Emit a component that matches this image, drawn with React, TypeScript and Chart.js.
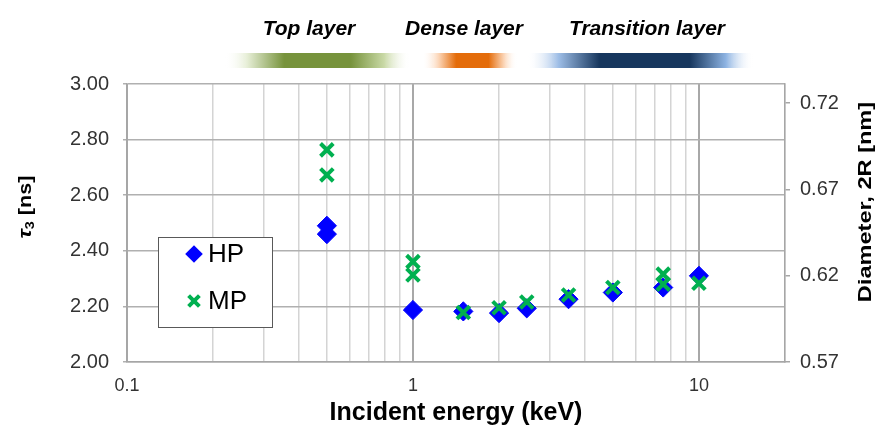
import React, { useEffect, useRef } from "react";
import { Chart, registerables } from "chart.js";

Chart.register(...registerables);

// ---------- data ----------
const hpEnergy = [0.5, 0.5, 1, 1.5, 2, 2.5, 3.5, 5, 7.5, 10];
const hpTau = [2.49, 2.46, 2.187, 2.182, 2.176, 2.193, 2.226, 2.25, 2.268, 2.31];
const mpEnergy = [0.5, 0.5, 1, 1, 1.5, 2, 2.5, 3.5, 5, 7.5, 7.5, 10];
const mpTau = [2.763, 2.673, 2.361, 2.313, 2.178, 2.195, 2.216, 2.241, 2.268, 2.316, 2.28, 2.283];

const xTickLabels = [0.1, 1, 10];
const xDecades = [0.1, 1, 10];
const xMax = 20;
const yTicks = [2.0, 2.2, 2.4, 2.6, 2.8, 3.0];
const y2Ticks = [0.57, 0.62, 0.67, 0.72];
const y2Max = 0.731;
const layerLabels = ["Top layer", "Dense layer", "Transition layer"];
const seriesLabels = ["HP", "MP"];

// ---------- layout / style ----------
const FONT = '"Liberation Sans", Arial, Helvetica, sans-serif';
const BLUE = "#0000FF";
const GREEN = "#00B050";
const TICK_COLOR = "#333333";

const LAYER_TEXT_X = [309, 464, 647];
const LAYER_TEXT_Y = 35;
const LAYER_BARS = [
  { x0: 225, x1: 410, stops: [[0, "rgba(255,255,255,0)"], [0.12, "#e6eed6"], [0.32, "#77933C"], [0.68, "#77933C"], [0.86, "#c9d9a6"], [1, "rgba(255,255,255,0)"]] },
  { x0: 422, x1: 517, stops: [[0, "rgba(255,255,255,0)"], [0.18, "#fbd3b3"], [0.36, "#E46C0A"], [0.7, "#E46C0A"], [0.86, "#fbd3b3"], [1, "rgba(255,255,255,0)"]] },
  { x0: 527, x1: 753, stops: [[0, "rgba(255,255,255,0)"], [0.14, "#9dbde6"], [0.32, "#17375E"], [0.72, "#17375E"], [0.88, "#8db3e2"], [1, "rgba(255,255,255,0)"]] },
];
const BAR_Y = 53;
const BAR_H = 15;
const LEGEND = { x: 158, y: 237, w: 114, h: 90, markerX: 194, textX: 208, rowY: [254, 301] };

const gridValues: number[] = [];
xDecades.forEach((d) => {
  for (let m = 1; m <= 9; m++) {
    const v = Number((m * d).toPrecision(6));
    if (v <= xMax && !gridValues.includes(v)) gridValues.push(v);
  }
});
if (!gridValues.includes(xMax)) gridValues.push(xMax);

const decorPlugin = {
  id: "decor",
  afterDraw(chart: any) {
    const ctx: CanvasRenderingContext2D = chart.ctx;
    ctx.save();
    // top layer bands
    LAYER_BARS.forEach((b) => {
      const g = ctx.createLinearGradient(b.x0, 0, b.x1, 0);
      b.stops.forEach(([o, c]) => g.addColorStop(o as number, c as string));
      ctx.fillStyle = g;
      ctx.fillRect(b.x0, BAR_Y, b.x1 - b.x0, BAR_H);
    });
    ctx.fillStyle = "#000";
    ctx.font = `italic bold 21px ${FONT}`;
    ctx.textAlign = "center";
    ctx.textBaseline = "alphabetic";
    layerLabels.forEach((t, i) => ctx.fillText(t, LAYER_TEXT_X[i], LAYER_TEXT_Y));

    // left axis title: tau_3 [ns]
    ctx.save();
    ctx.translate(26, 207);
    ctx.rotate(-Math.PI / 2);
    ctx.scale(1.2, 1);
    ctx.textBaseline = "middle";
    ctx.textAlign = "left";
    const fTau = `italic bold 19px ${FONT}`;
    const fSub = `bold 12px ${FONT}`;
    const fRest = `bold 18px ${FONT}`;
    ctx.font = fTau;
    const wTau = ctx.measureText("τ").width;
    ctx.font = fSub;
    const wSub = ctx.measureText("3").width;
    ctx.font = fRest;
    const wRest = ctx.measureText(" [ns]").width;
    let cx = -(wTau + wSub + wRest) / 2;
    ctx.font = fTau;
    ctx.fillText("τ", cx, 0);
    cx += wTau;
    ctx.font = fSub;
    ctx.fillText("3", cx, 5);
    cx += wSub;
    ctx.font = fRest;
    ctx.fillText(" [ns]", cx, 0);
    ctx.restore();

    // right axis title
    ctx.save();
    ctx.translate(866, 202);
    ctx.rotate(-Math.PI / 2);
    ctx.scale(1.24, 1);
    ctx.textAlign = "center";
    ctx.textBaseline = "middle";
    ctx.font = `bold 19px ${FONT}`;
    ctx.fillStyle = "#000";
    ctx.fillText("Diameter, 2R [nm]", 0, 0);
    ctx.restore();

    // legend
    ctx.fillStyle = "#fff";
    ctx.fillRect(LEGEND.x, LEGEND.y, LEGEND.w, LEGEND.h);
    ctx.strokeStyle = "#595959";
    ctx.lineWidth = 1;
    ctx.strokeRect(LEGEND.x + 0.5, LEGEND.y + 0.5, LEGEND.w, LEGEND.h);
    const ds = chart.data.datasets;
    {
      const mx = LEGEND.markerX, my = LEGEND.rowY[0], r = 8.8;
      ctx.beginPath();
      ctx.moveTo(mx - r, my);
      ctx.lineTo(mx, my - r);
      ctx.lineTo(mx + r, my);
      ctx.lineTo(mx, my + r);
      ctx.closePath();
      ctx.fillStyle = ds[0].backgroundColor;
      ctx.fill();
    }
    {
      const mx = LEGEND.markerX, my = LEGEND.rowY[1], s = 5.4;
      ctx.beginPath();
      ctx.moveTo(mx - s, my - s);
      ctx.lineTo(mx + s, my + s);
      ctx.moveTo(mx + s, my - s);
      ctx.lineTo(mx - s, my + s);
      ctx.strokeStyle = ds[1].borderColor;
      ctx.lineWidth = 4;
      ctx.stroke();
    }
    ctx.fillStyle = "#000";
    ctx.font = `26px ${FONT}`;
    ctx.textAlign = "left";
    ctx.textBaseline = "middle";
    seriesLabels.forEach((t, i) => ctx.fillText(t, LEGEND.textX, LEGEND.rowY[i] + 1));
    ctx.restore();
  },
};

export default function App() {
  const ref = useRef<HTMLCanvasElement>(null);
  useEffect(() => {
    const canvas = ref.current;
    if (!canvas) return;
    const chart = new Chart(canvas, {
      type: "scatter",
      data: {
        datasets: [
          {
            label: seriesLabels[0],
            data: hpEnergy.map((x, i) => ({ x, y: hpTau[i] })),
            pointStyle: "rectRot",
            pointRadius: 9.6,
            backgroundColor: BLUE,
            borderColor: BLUE,
            borderWidth: 1,
            order: 1,
          },
          {
            label: seriesLabels[1],
            data: mpEnergy.map((x, i) => ({ x, y: mpTau[i] })),
            pointStyle: "crossRot",
            pointRadius: 9,
            backgroundColor: GREEN,
            borderColor: GREEN,
            borderWidth: 4,
            order: 0,
          },
        ],
      },
      options: {
        animation: false,
        responsive: true,
        maintainAspectRatio: false,
        layout: { padding: { top: 84, left: 0, right: 0, bottom: 0 } },
        plugins: { legend: { display: false }, tooltip: { enabled: false } },
        scales: {
          x: {
            type: "logarithmic",
            position: "bottom",
            min: xDecades[0],
            max: xMax,
            afterBuildTicks: (s: any) => {
              s.ticks = gridValues.map((v) => ({ value: v }));
            },
            afterFit: (s: any) => {
              s.height = 63;
            },
            ticks: {
              autoSkip: false,
              maxRotation: 0,
              padding: 13,
              color: TICK_COLOR,
              font: { family: FONT, size: 18 },
              callback: (v: any) => (xTickLabels.includes(Number(v)) ? String(v) : ""),
            },
            grid: {
              drawTicks: false,
              color: (c: any) => (c.tick && xDecades.includes(c.tick.value) ? "#a8a8a8" : "#d4d4d4"),
              lineWidth: (c: any) => (c.tick && xDecades.includes(c.tick.value) ? 2 : 1.5),
            },
            border: { color: "#a6a6a6", width: 1.5 },
            title: {
              display: true,
              text: "Incident energy (keV)",
              color: "#000",
              font: { family: FONT, size: 25, weight: "bold" },
              padding: { top: 0, bottom: -3 },
            },
          },
          y: {
            type: "linear",
            position: "left",
            min: yTicks[0],
            max: yTicks[yTicks.length - 1],
            afterBuildTicks: (s: any) => {
              s.ticks = yTicks.map((v) => ({ value: v }));
            },
            afterFit: (s: any) => {
              s.width = 127;
            },
            ticks: {
              padding: 14,
              color: TICK_COLOR,
              font: { family: FONT, size: 20 },
              callback: (v: any) => Number(v).toFixed(2),
            },
            grid: { color: "#b0b0b0", lineWidth: 1.5, tickLength: 4 },
            border: { color: "#a6a6a6", width: 1.5 },
          },
          y2: {
            type: "linear",
            position: "right",
            min: y2Ticks[0],
            max: y2Max,
            afterBuildTicks: (s: any) => {
              s.ticks = y2Ticks.map((v) => ({ value: v }));
            },
            afterFit: (s: any) => {
              s.width = 99;
            },
            ticks: {
              padding: 10,
              color: TICK_COLOR,
              font: { family: FONT, size: 20 },
              callback: (v: any) => Number(v).toFixed(2),
            },
            grid: { drawOnChartArea: false, color: "#a6a6a6", lineWidth: 1.5, tickLength: 5 },
            border: { color: "#a6a6a6", width: 1.5 },
          },
        },
      } as any,
      plugins: [decorPlugin],
    });
    return () => chart.destroy();
  }, []);

  return (
    <div style={{ position: "fixed", left: 0, top: 0, width: 884, height: 425, background: "#fff" }}>
      <canvas ref={ref} />
    </div>
  );
}
